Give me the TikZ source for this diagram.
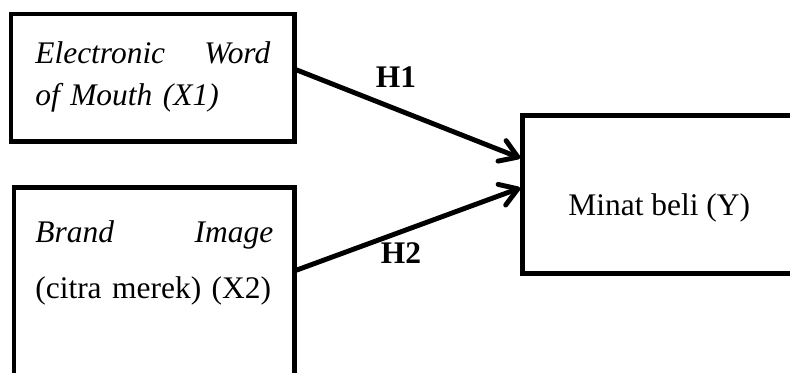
\documentclass[tikz,border=0pt]{standalone}
\usepackage{fontspec}
\setmainfont{Liberation Serif}
\usetikzlibrary{arrows.meta}
\tikzset{>={Straight Barb[length=3.4mm,width=4.4mm,round]}}
\tikzset{
  varbox/.style={draw, line width=2.7pt, inner sep=0pt},
  vartext/.style={inner sep=0pt, font=\fontsize{17.9pt}{23.8pt}\selectfont},
  hyp/.style={->, line width=2.8pt, line cap=round},
}

\begin{document}
\begin{tikzpicture}[x=0.02cm,y=-0.02cm]
      \useasboundingbox (0,0) rectangle (790,372);
      \clip (0,0) rectangle (790,372);
      \node[varbox, minimum width=5.67cm, minimum height=2.55cm] (ewom) at (152.75,77.75) {};
      \node[varbox, minimum width=5.61cm, minimum height=4.65cm] (brand) at (154.25,303.75) {};
      \node[varbox, minimum width=6.35cm, minimum height=3.16cm] (minat) at (681.25,194.5) {};
      \node[vartext, text width=4.7cm, align=left, anchor=north west] (ewomtxt) at (35,41.5)
        {\textit{Electronic}\hfill\textit{Word}\\ \textit{of Mouth (X1)}};
      \node[vartext, text width=4.76cm, align=left, anchor=north west] (brandtxt) at (35,220.5)
        {\textit{Brand}\hfill\textit{Image}\\[0.28cm] (citra merek) (X2)};
      \node[vartext, anchor=base west] (minattxt) at (568,215) {Minat beli (Y)};
      \draw[hyp] ([yshift=0.155cm]ewom.east) -- ([yshift=0.73cm]minat.west);
      \draw[hyp] ([yshift=0.675cm]brand.east) -- ([yshift=0.13cm]minat.west);
      \node[vartext, anchor=base, font=\fontsize{17.9pt}{23.8pt}\selectfont\bfseries] (h1) at (396,87) {H1};
      \node[vartext, anchor=base, font=\fontsize{17.9pt}{23.8pt}\selectfont\bfseries] (h2) at (401,263) {H2};
\end{tikzpicture}
\end{document}
